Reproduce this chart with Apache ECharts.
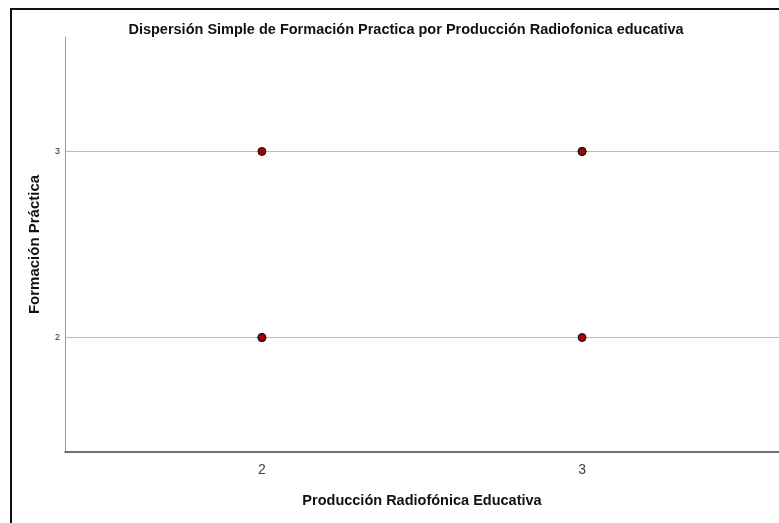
<!DOCTYPE html>
<html>
<head>
<meta charset="utf-8">
<script src="https://cdn.jsdelivr.net/npm/echarts@6/dist/echarts.min.js"></script>
<style>html,body{margin:0;padding:0;background:#fff}#c{width:779px;height:523px}</style>
</head>
<body>
<div id="c"></div>
<script>
// Data
const titleText = "Dispersión Simple de Formación Practica por Producción Radiofonica educativa";
const xName = "Producción Radiofónica Educativa";
const yName = "Formación Práctica";
const xTicks = [2, 3];
const yTicks = [2, 3];
const xValues = [2, 3, 3, 2, 2, 3];
const yValues = [3, 3, 3, 2, 2, 2];

const points = xValues.map((x, i) => [x, yValues[i]]);

const chart = echarts.init(document.getElementById('c'), null, {renderer: 'canvas'});
chart.setOption({
  animation: false,
  backgroundColor: '#fff',
  title: {
    text: titleText,
    left: 401, top: 17, textAlign: 'center',
    textStyle: {fontFamily: 'Liberation Sans', fontSize: 14.5, fontWeight: 'bold', color: '#111'}
  },
  graphic: [
    {type: 'polyline', shape: {points: [[11, 523], [11, 9], [779, 9]]},
     style: {stroke: '#111', lineWidth: 2, fill: null}, silent: true}
  ],
  grid: {left: 65, top: 37, right: -6, bottom: 71, containLabel: false},
  xAxis: {
    type: 'value', min: 1.385, max: 3.615,
    name: xName, nameLocation: 'middle', nameGap: 41,
    nameTextStyle: {fontFamily: 'Liberation Sans', fontSize: 14.5, fontWeight: 'bold', color: '#111'},
    axisLine: {show: true, lineStyle: {color: '#444', width: 1.5}},
    axisTick: {show: false, customValues: xTicks},
    axisLabel: {customValues: xTicks, margin: 11, fontFamily: 'Liberation Sans', fontSize: 14, color: '#444'},
    splitLine: {show: false}
  },
  yAxis: {
    type: 'value', min: 1.385, max: 3.615,
    name: yName, nameLocation: 'middle', nameGap: 23,
    nameTextStyle: {fontFamily: 'Liberation Sans', fontSize: 15, fontWeight: 'bold', color: '#111'},
    axisLine: {show: true, lineStyle: {color: '#999', width: 1}},
    axisTick: {show: false, customValues: yTicks},
    axisLabel: {customValues: yTicks, margin: 5, fontFamily: 'Liberation Sans', fontSize: 9, color: '#222'},
    splitLine: {show: true, lineStyle: {color: '#bbb', width: 1.2}}
  },
  series: [{
    type: 'scatter',
    data: points,
    symbol: 'circle',
    symbolSize: 8,
    itemStyle: {color: '#a30000', borderColor: '#111', borderWidth: 1, opacity: 1}
  }]
});
</script>
</body>
</html>
